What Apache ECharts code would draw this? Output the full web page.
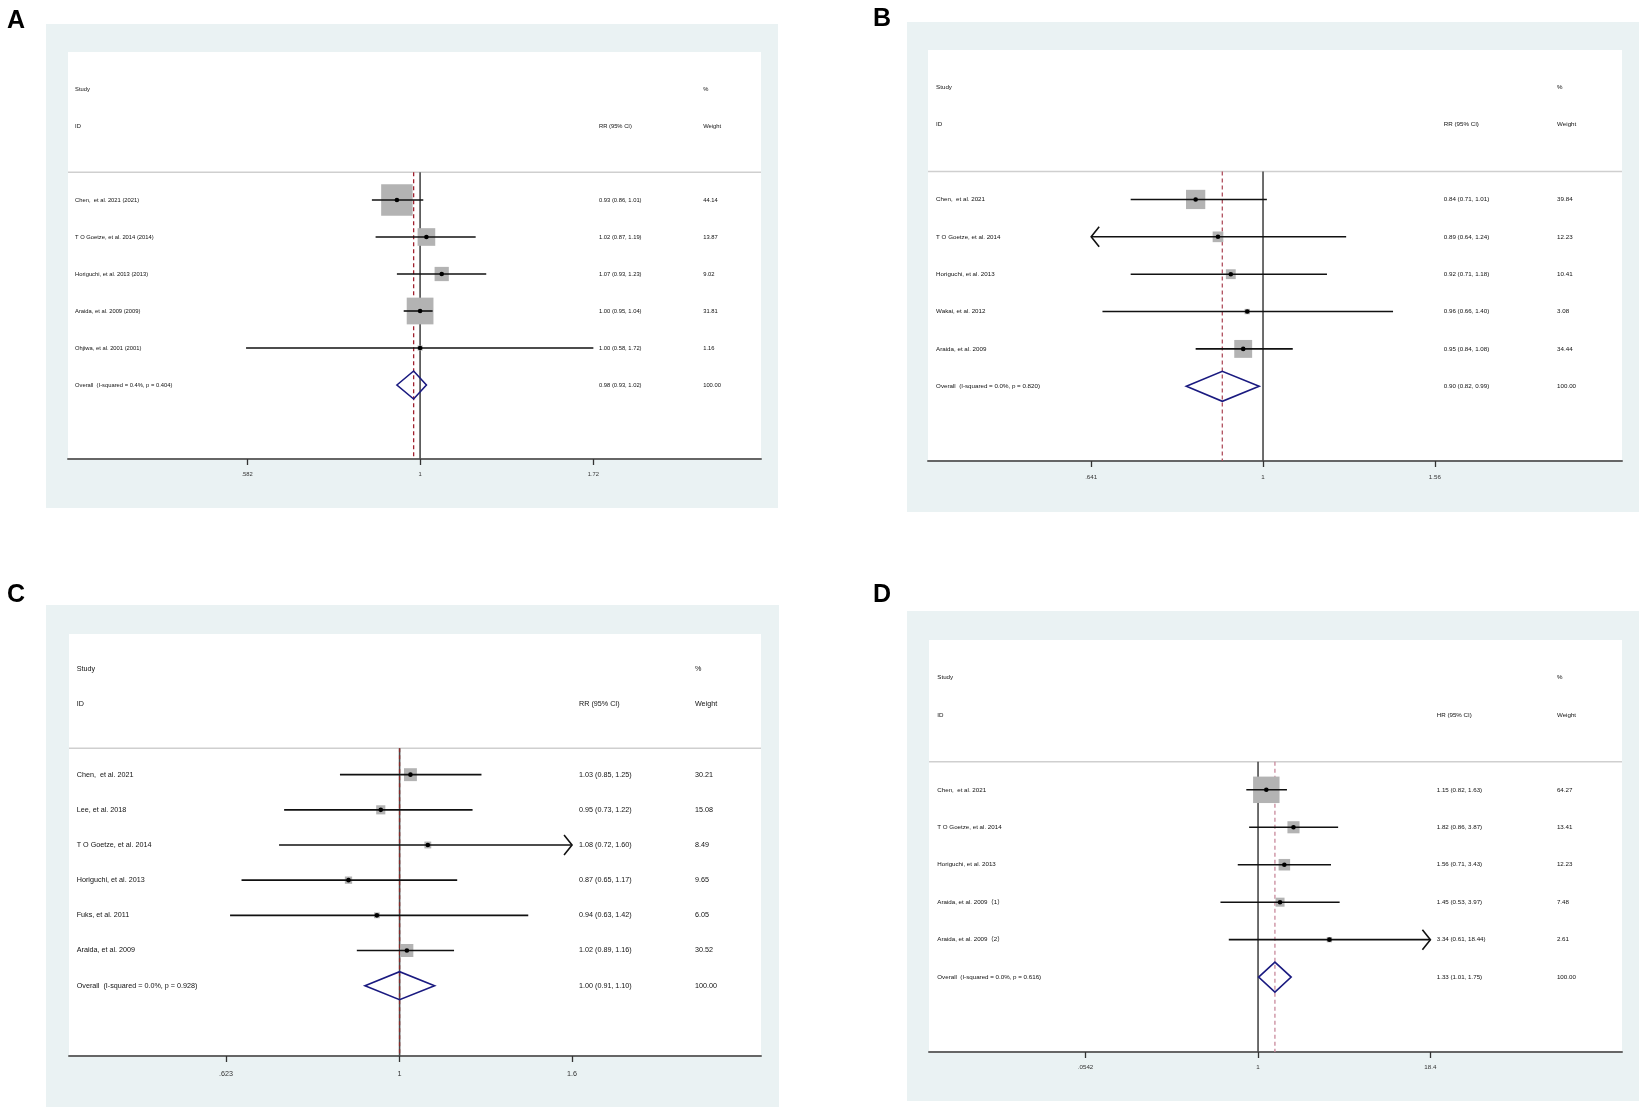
<!DOCTYPE html>
<html><head><meta charset="utf-8">
<script src="https://cdn.jsdelivr.net/npm/echarts@6/dist/echarts.min.js"></script>
<style>html,body{margin:0;padding:0;background:#fff}#c{width:1642px;height:1107px}</style>
</head><body><div id="c"></div>
<script>
// ---------- Panel A ----------
const studiesA = ['Chen,  et al. 2021 (2021)', 'T O Goetze, et al. 2014 (2014)', 'Horiguchi, et al. 2013 (2013)', 'Araida, et al. 2009 (2009)', 'Ohjiwa, et al. 2001 (2001)'];
const estA = [0.93, 1.02, 1.07, 1.00, 1.00];
const lowA = [0.86, 0.87, 0.93, 0.95, 0.58];
const highA = [1.01, 1.19, 1.23, 1.04, 1.72];
const weightA = [44.14, 13.87, 9.02, 31.81, 1.16];
const arrowA = [0, 0, 0, 0, 0];
const overallA = [0.98, 0.93, 1.02];
const overallLabelA = 'Overall  (I-squared = 0.4%, p = 0.404)';
const ticksA = [0.582, 1, 1.72];
const tickLabelsA = ['.582', '1', '1.72'];
const effectA = 'RR (95% CI)';

// ---------- Panel B ----------
const studiesB = ['Chen,  et al. 2021', 'T O Goetze, et al. 2014', 'Horiguchi, et al. 2013', 'Wakai, et al. 2012', 'Araida, et al. 2009'];
const estB = [0.84, 0.89, 0.92, 0.96, 0.95];
const lowB = [0.71, 0.64, 0.71, 0.66, 0.84];
const highB = [1.01, 1.24, 1.18, 1.40, 1.08];
const weightB = [39.84, 12.23, 10.41, 3.08, 34.44];
const arrowB = [0, -1, 0, 0, 0];
const overallB = [0.90, 0.82, 0.99];
const overallLabelB = 'Overall  (I-squared = 0.0%, p = 0.820)';
const ticksB = [0.641, 1, 1.56];
const tickLabelsB = ['.641', '1', '1.56'];
const effectB = 'RR (95% CI)';

// ---------- Panel C ----------
const studiesC = ['Chen,  et al. 2021', 'Lee, et al. 2018', 'T O Goetze, et al. 2014', 'Horiguchi, et al. 2013', 'Fuks, et al. 2011', 'Araida, et al. 2009'];
const estC = [1.03, 0.95, 1.08, 0.87, 0.94, 1.02];
const lowC = [0.85, 0.73, 0.72, 0.65, 0.63, 0.89];
const highC = [1.25, 1.22, 1.60, 1.17, 1.42, 1.16];
const weightC = [30.21, 15.08, 8.49, 9.65, 6.05, 30.52];
const arrowC = [0, 0, 1, 0, 0, 0];
const overallC = [1.00, 0.91, 1.10];
const overallLabelC = 'Overall  (I-squared = 0.0%, p = 0.928)';
const ticksC = [0.623, 1, 1.6];
const tickLabelsC = ['.623', '1', '1.6'];
const effectC = 'RR (95% CI)';

// ---------- Panel D ----------
const studiesD = ['Chen,  et al. 2021', 'T O Goetze, et al. 2014', 'Horiguchi, et al. 2013', 'Araida, et al. 2009（1）', 'Araida, et al. 2009（2）'];
const estD = [1.15, 1.82, 1.56, 1.45, 3.34];
const lowD = [0.82, 0.86, 0.71, 0.53, 0.61];
const highD = [1.63, 3.87, 3.43, 3.97, 18.44];
const weightD = [64.27, 13.41, 12.23, 7.48, 2.61];
const arrowD = [0, 0, 0, 0, 1];
const overallD = [1.33, 1.01, 1.75];
const overallLabelD = 'Overall  (I-squared = 0.0%, p = 0.616)';
const ticksD = [0.0542, 1, 18.4];
const tickLabelsD = ['.0542', '1', '18.4'];
const effectD = 'HR (95% CI)';

const panelLetters = ['A', 'B', 'C', 'D'];

// ---------- layout / style (no data) ----------
const FONT = '"Liberation Sans", Arial, "Noto Sans CJK SC", sans-serif';
const layouts = [
  {left:68, top:52, width:693, height:407, xMin:-1.102, xMax:1.067, colLabel:-1.080, colEff:0.560, colW:0.886, k:4.74, fs:5.8, dH:14, ref:'#a0202e', bg:[46,24,732,484], letter:[2,4], lm:12},
  {left:928, top:50, width:694, height:411, xMin:-0.867, xMax:0.929, colLabel:-0.846, colEff:0.468, colW:0.761, k:3.05, fs:6.2, dH:15, ref:'#b0505e', bg:[907,22,732,490], letter:[868,2], lm:13},
  {left:69, top:634, width:692, height:422, xMin:-0.901, xMax:0.985, colLabel:-0.880, colEff:0.489, colW:0.805, k:2.35, fs:7.2, dH:14, ref:'#8a2a2a', bg:[46,605,733,502], letter:[2,578], lm:14},
  {left:929, top:640, width:693, height:412, xMin:-5.56, xMax:6.15, colLabel:-5.42, colEff:3.02, colW:5.05, k:3.3, fs:6.2, dH:15, ref:'#c98a9c', bg:[907,611,732,490], letter:[868,578], lm:12}
];

const panels = [
  {studies:studiesA, est:estA, low:lowA, high:highA, weight:weightA, arrow:arrowA, overall:overallA, overallLabel:overallLabelA, ticks:ticksA, tickLabels:tickLabelsA, effect:effectA},
  {studies:studiesB, est:estB, low:lowB, high:highB, weight:weightB, arrow:arrowB, overall:overallB, overallLabel:overallLabelB, ticks:ticksB, tickLabels:tickLabelsB, effect:effectB},
  {studies:studiesC, est:estC, low:lowC, high:highC, weight:weightC, arrow:arrowC, overall:overallC, overallLabel:overallLabelC, ticks:ticksC, tickLabels:tickLabelsC, effect:effectC},
  {studies:studiesD, est:estD, low:lowD, high:highD, weight:weightD, arrow:arrowD, overall:overallD, overallLabel:overallLabelD, ticks:ticksD, tickLabels:tickLabelsD, effect:effectD}
];

const fmt = v => v.toFixed(2);
const grid = [], xAxis = [], yAxis = [], series = [], graphicEls = [], titles = [];

panels.forEach((P, pi) => {
  const L = layouts[pi];
  const n = P.studies.length;
  const first = 3, overallRow = 3 + n, yMax = n + 5, sepRow = 2.25;
  const lnTicks = P.ticks.map(Math.log);
  const tMin = lnTicks[0], tMax = lnTicks[lnTicks.length - 1];

  graphicEls.push({type:'rect', z:-10, silent:true, shape:{x:L.bg[0], y:L.bg[1], width:L.bg[2], height:L.bg[3]}, style:{fill:'#EAF2F3'}});
  graphicEls.push({type:'rect', z:-9, silent:true, shape:{x:L.left, y:L.top, width:L.width, height:L.height}, style:{fill:'#ffffff'}});
  titles.push({text:panelLetters[pi], left:L.letter[0], top:L.letter[1], textStyle:{fontSize:25, fontWeight:'bold', color:'#000', fontFamily:FONT}});

  grid.push({left:L.left, top:L.top, width:L.width, height:L.height, containLabel:false, show:false});
  xAxis.push({
    gridIndex:pi, type:'value', min:L.xMin, max:L.xMax, position:'bottom',
    axisLine:{show:true, onZero:false, lineStyle:{color:'#666', width:2}},
    axisTick:{show:true, customValues:lnTicks, length:6, lineStyle:{color:'#333', width:1.3}},
    axisLabel:{show:true, customValues:lnTicks, margin:L.lm, fontSize:L.fs, color:'#333', fontFamily:FONT,
      formatter: v => { let b = 0, d = 1e9; lnTicks.forEach((t, j) => { if (Math.abs(t - v) < d) { d = Math.abs(t - v); b = j; } }); return P.tickLabels[b]; }},
    splitLine:{show:false}
  });
  yAxis.push({gridIndex:pi, type:'value', inverse:true, min:-1, max:yMax, show:false});

  // reference lines: separator, null line, overall dashed
  const lnOv = Math.log(P.overall[0]);
  const refData = [[L.xMin, sepRow, L.xMax, sepRow], [0, sepRow, 0, yMax], [lnOv, sepRow, lnOv, yMax]];
  const refStyles = [
    {stroke:'#cfcfcf', lineWidth:1.5},
    {stroke:'#4a4a4a', lineWidth:1.6},
    {stroke:L.ref, lineWidth:1.3, lineDash:[4, 3]}
  ];
  series.push({
    type:'custom', xAxisIndex:pi, yAxisIndex:pi, z:1, silent:true, clip:false,
    data: refData,
    renderItem: (params, api) => {
      const a = api.coord([api.value(0), api.value(1)]);
      const b = api.coord([api.value(2), api.value(3)]);
      return {type:'line', shape:{x1:a[0], y1:a[1], x2:b[0], y2:b[1]}, style:refStyles[params.dataIndex]};
    }
  });

  // study rows
  const studyData = P.est.map((e, i) => [Math.log(e), first + i, Math.log(P.low[i]), Math.log(P.high[i]), P.weight[i], P.arrow[i]]);
  series.push({
    type:'custom', xAxisIndex:pi, yAxisIndex:pi, z:3, silent:true, clip:false,
    data: studyData,
    renderItem: (params, api) => {
      const row = api.value(1), arr = api.value(5);
      let x0 = api.value(2), x1 = api.value(3);
      if (arr < 0) x0 = tMin;
      if (arr > 0) x1 = tMax;
      const pe = api.coord([api.value(0), row]);
      const p0 = api.coord([x0, row]);
      const p1 = api.coord([x1, row]);
      const s = L.k * Math.sqrt(api.value(4));
      const ch = [
        {type:'rect', shape:{x:pe[0] - s/2, y:pe[1] - s/2, width:s, height:s}, style:{fill:'#b3b3b3'}},
        {type:'line', shape:{x1:p0[0], y1:p0[1], x2:p1[0], y2:p1[1]}, style:{stroke:'#111', lineWidth:1.6}},
        {type:'circle', shape:{cx:pe[0], cy:pe[1], r:2.3}, style:{fill:'#000'}}
      ];
      if (arr < 0) ch.push({type:'polyline', shape:{points:[[p0[0] + 8, p0[1] - 10], [p0[0], p0[1]], [p0[0] + 8, p0[1] + 10]]}, style:{stroke:'#111', lineWidth:1.6, fill:null}});
      if (arr > 0) ch.push({type:'polyline', shape:{points:[[p1[0] - 8, p1[1] - 10], [p1[0], p1[1]], [p1[0] - 8, p1[1] + 10]]}, style:{stroke:'#111', lineWidth:1.6, fill:null}});
      return {type:'group', children:ch};
    }
  });

  // overall diamond
  series.push({
    type:'custom', xAxisIndex:pi, yAxisIndex:pi, z:4, silent:true, clip:false,
    data: [[lnOv, overallRow, Math.log(P.overall[1]), Math.log(P.overall[2])]],
    renderItem: (params, api) => {
      const c = api.coord([api.value(0), api.value(1)]);
      const l = api.coord([api.value(2), api.value(1)]);
      const r = api.coord([api.value(3), api.value(1)]);
      return {type:'polygon', shape:{points:[[l[0], c[1]], [c[0], c[1] - L.dH], [r[0], c[1]], [c[0], c[1] + L.dH]]}, style:{stroke:'#1a1a80', lineWidth:1.6, fill:null}};
    }
  });

  // text columns
  const texts = [];
  texts.push([L.colLabel, 0, 'Study']);
  texts.push([L.colLabel, 1, 'ID']);
  texts.push([L.colW, 0, '%']);
  texts.push([L.colEff, 1, P.effect]);
  texts.push([L.colW, 1, 'Weight']);
  P.studies.forEach((s, i) => {
    texts.push([L.colLabel, first + i, s]);
    texts.push([L.colEff, first + i, fmt(P.est[i]) + ' (' + fmt(P.low[i]) + ', ' + fmt(P.high[i]) + ')']);
    texts.push([L.colW, first + i, fmt(P.weight[i])]);
  });
  texts.push([L.colLabel, overallRow, P.overallLabel]);
  texts.push([L.colEff, overallRow, fmt(P.overall[0]) + ' (' + fmt(P.overall[1]) + ', ' + fmt(P.overall[2]) + ')']);
  texts.push([L.colW, overallRow, fmt(100)]);
  series.push({
    type:'custom', xAxisIndex:pi, yAxisIndex:pi, z:5, silent:true, clip:false,
    data: texts.map(t => [t[0], t[1]]),
    renderItem: (params, api) => {
      const p = api.coord([api.value(0), api.value(1)]);
      return {type:'text', x:p[0], y:p[1], style:{text:texts[params.dataIndex][2], fill:'#111', fontSize:L.fs, fontFamily:FONT, align:'left', verticalAlign:'middle'}};
    }
  });
});

const chart = echarts.init(document.getElementById('c'), null, {renderer:'canvas'});
chart.setOption({
  animation:false,
  backgroundColor:'#ffffff',
  title: titles,
  graphic: {elements: graphicEls},
  grid, xAxis, yAxis, series
});
</script>
</body></html>
